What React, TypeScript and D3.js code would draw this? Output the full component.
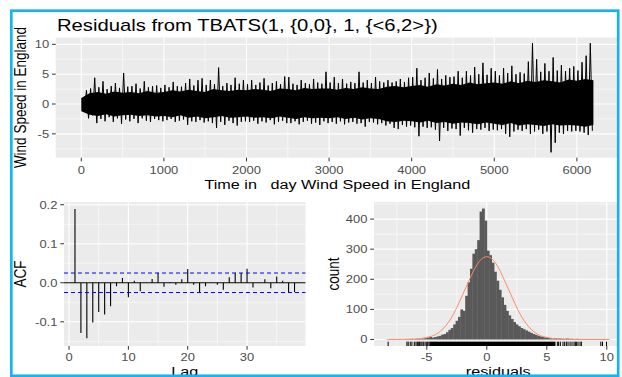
import React from 'react';
import * as d3 from 'd3';

// ---------- Top panel: residual series (read as 50-day block extremes) ----------
const blockDays = 50;
const spikeHi = [
  1.0, 2.3, 2.6, 4.4, 2.8, 3.8, 2.5, 3.0, 3.5, 2.7,
  5.2, 2.9, 3.0, 3.4, 2.6, 3.8, 2.8, 3.0, 3.1, 2.7,
  3.2, 2.8, 3.7, 3.0, 2.9, 3.5, 4.2, 3.1, 4.0, 4.3,
  3.2, 4.0, 3.3, 6.1, 3.0, 3.5, 3.2, 4.4, 3.4, 4.0,
  3.3, 4.0, 3.2, 3.6, 4.3, 3.1, 3.5, 3.8, 3.3, 4.6,
  4.5, 3.4, 3.2, 4.0, 3.5, 3.3, 4.2, 3.6, 3.4, 5.4,
  3.6, 4.5, 3.5, 4.2, 3.4, 3.7, 3.5, 5.4, 3.6, 4.0,
  3.5, 4.5, 3.8, 3.6, 4.0, 3.6, 3.8, 4.2, 3.7, 4.4,
  4.5, 6.0, 4.0, 4.4, 5.2, 4.3, 5.8, 4.2, 4.8, 4.5,
  4.6, 5.5, 4.4, 5.5, 4.8, 6.2, 5.0, 6.9, 4.9, 6.0,
  5.5, 4.8, 6.0, 5.2, 6.4, 5.0, 5.3, 5.1, 7.1, 10.2,
  7.5, 5.4, 6.8, 5.5, 7.8, 5.6, 6.5, 5.5, 6.0, 6.3,
  5.6, 7.0, 8.1, 10.2,
];
const spikeLo = [
  -1.3, -2.4, -1.9, -3.2, -2.5, -2.9, -2.2, -3.0, -2.4, -3.3,
  -2.6, -2.9, -2.5, -3.2, -2.4, -2.8, -3.0, -2.5, -2.7, -2.9,
  -2.7, -2.5, -3.0, -2.8, -2.6, -3.5, -2.9, -3.0, -2.7, -3.1,
  -2.9, -3.2, -4.0, -3.0, -3.5, -2.8, -3.2, -3.6, -3.0, -2.9,
  -3.0, -2.8, -3.3, -2.9, -3.1, -2.7, -3.4, -3.0, -2.8, -3.2,
  -3.2, -2.9, -3.4, -3.0, -2.8, -3.3, -3.1, -3.5, -2.9, -3.2,
  -3.0, -3.3, -2.9, -3.4, -3.1, -3.0, -3.3, -3.2, -3.8, -3.0,
  -3.1, -3.4, -3.2, -3.6, -3.3, -4.0, -4.2, -3.5, -3.8, -3.6,
  -3.9, -5.4, -3.8, -4.0, -3.9, -4.3, -6.2, -4.0, -4.5, -4.1,
  -4.2, -5.3, -4.0, -4.4, -4.8, -4.2, -4.3, -4.0, -4.5, -4.3,
  -4.4, -4.2, -5.0, -5.5, -4.6, -4.3, -4.5, -4.2, -5.0, -4.6,
  -4.3, -5.0, -4.6, -8.1, -6.5, -4.8, -5.0, -4.5, -4.6, -4.5,
  -4.6, -4.8, -5.2, -4.5,
];
// dense core band, read every 100 days (t = 0 .. 6200)
const coreStep = 100;
const coreUpper = [
  1.0, 1.8, 2.0, 1.7, 2.1, 1.9, 2.0, 1.8, 2.2, 1.9,
  2.0, 2.3, 2.1, 2.4, 2.2, 2.0, 2.5, 2.3, 2.2, 2.4,
  2.3, 2.5, 2.4, 2.2, 2.6, 2.5, 2.3, 2.7, 2.5, 2.6,
  2.6, 2.4, 2.7, 2.5, 2.8, 2.6, 2.5, 2.9, 3.0, 2.8,
  3.0, 3.2, 2.9, 3.3, 3.1, 3.4, 3.2, 3.6, 3.3, 3.5,
  3.6, 3.4, 3.8, 3.5, 3.9, 3.7, 4.0, 3.8, 3.6, 4.1,
  3.9, 4.2, 4.0,
];
const coreLower = [
  -1.2, -1.8, -2.0, -1.7, -2.1, -1.9, -1.8, -2.0, -1.9, -2.1,
  -2.0, -2.2, -1.9, -2.3, -2.1, -2.4, -2.2, -2.0, -2.3, -2.2,
  -2.1, -2.3, -2.2, -2.4, -2.1, -2.3, -2.5, -2.2, -2.4, -2.3,
  -2.4, -2.2, -2.5, -2.3, -2.6, -2.4, -2.5, -2.9, -3.0, -2.8,
  -2.9, -3.1, -2.8, -3.2, -3.0, -3.3, -3.1, -3.2, -3.4, -3.1,
  -3.3, -3.5, -3.2, -3.6, -3.4, -3.5, -3.7, -3.4, -3.6, -3.5,
  -3.6, -3.8, -3.5,
];

const topXTicks = [0, 1000, 2000, 3000, 4000, 5000, 6000];
const topXMinor = [500, 1500, 2500, 3500, 4500, 5500, 6500];
const topYTicks = [-5, 0, 5, 10];
const topYMinor = [-7.5, -2.5, 2.5, 7.5];

// ---------- ACF ----------
const acfValues = [
  0.189, -0.129, -0.142, -0.102, -0.075, -0.081, -0.060, -0.009, 0.012, -0.037,
  0.005, -0.022, 0.001, 0.010, 0.026, -0.010, 0.002, -0.005, 0.009, 0.035,
  -0.005, -0.024, -0.009, 0.001, -0.005, -0.018, 0.014, 0.026, 0.025, 0.036,
  -0.012, 0.001, 0.009, -0.014, 0.016, 0.005, -0.024, -0.024,
];
const acfCi = 0.025;
const acfXTicks = [0, 10, 20, 30];
const acfXMinor = [5, 15, 25, 35];
const acfYTicks = [-0.1, 0.0, 0.1, 0.2];
const acfYMinor = [-0.15, -0.05, 0.05, 0.15];
const acfYLabels = ['-0.1', '0.0', '0.1', '0.2'];

// ---------- Histogram ----------
const histStart = -8.4;
const binWidth = 0.2;
const histCounts = [
  1, 0, 0, 0, 0, 0, 0, 0, 1, 1,
  2, 1, 2, 2, 2, 3, 4, 6, 8, 6,
  8, 10, 12, 16, 18, 24, 32, 38, 50, 62,
  75, 100, 95, 145, 190, 235, 285, 300, 330, 425,
  435, 395, 295, 280, 255, 225, 195, 165, 140, 115,
  95, 80, 68, 58, 50, 44, 38, 34, 30, 26,
  22, 18, 15, 12, 10, 8, 6, 5, 4, 3,
  4, 3, 3, 2, 2, 3, 2, 2, 1, 2,
  1, 1, 0, 0, 0, 0, 0, 0, 0, 1,
  1, 0, 1,
];
const normalX = [-8.2, -7, -6, -5, -4.5, -4, -3.5, -3, -2.5, -2, -1.5, -1, -0.5, 0, 0.5, 1, 1.5, 2, 2.5, 3, 3.5, 4, 4.5, 5, 6, 7, 8, 10.2];
const normalY = [0, 0.2, 1, 7, 12, 23, 42, 69, 106, 150, 194, 236, 265, 275, 265, 236, 194, 150, 106, 69, 42, 23, 12, 7, 1, 0.2, 0, 0];
const rugDense = [-4.78, 5.72];
const rugTails = [
  -8.22, -6.66, -6.55, -6.38, -6.24, -6.04, -5.9, -5.79, -5.71, -5.6, -5.49, -5.4, -5.29, -5.15, -5.04, -4.93, -4.82,
  5.88, 5.99, 6.13, 6.35, 6.49, 6.63, 6.77, 6.94, 7.1, 7.27, 7.38, 7.49, 7.6, 7.77, 7.88, 9.5, 9.64, 9.98,
];
const histXTicks = [-5, 0, 5, 10];
const histXMinor = [-7.5, -2.5, 2.5, 7.5];
const histYTicks = [0, 100, 200, 300, 400];
const histYMinor = [50, 150, 250, 350, 450];

const FONT = "'Liberation Sans', Arial, Helvetica, sans-serif";
const TICK_FS = 10.8;
const TITLE_FS = 13.5;
const SX = 1.2; // horizontal stretch of the reference's lettering
const GRID_BG = '#EBEBEB';
const TICK_COL = '#4D4D4D';

type Sc = d3.ScaleLinear<number, number>;

function Txt({ x, y, children, anchor = 'start', fs = TICK_FS, fill = '#000', rot = false, sx = SX, dy }: any) {
  return (
    <text transform={`translate(${x},${y}) scale(${sx},1)${rot ? ' rotate(-90)' : ''}`}
      textAnchor={anchor} fontFamily={FONT} fontSize={fs} fill={fill} dy={dy} style={{ whiteSpace: 'pre' }}>
      {children}
    </text>
  );
}

function PanelBg({ x, y, xMaj, xMin, yMaj, yMin }: { x: Sc; y: Sc; xMaj: number[]; xMin: number[]; yMaj: number[]; yMin: number[] }) {
  const [x0, x1] = x.range();
  const [y0, y1] = y.range();
  const inX = (v: number) => x(v) >= Math.min(x0, x1) && x(v) <= Math.max(x0, x1);
  const inY = (v: number) => y(v) >= Math.min(y0, y1) && y(v) <= Math.max(y0, y1);
  return (
    <g>
      <rect x={x0} y={y1} width={x1 - x0} height={y0 - y1} fill={GRID_BG} />
      {yMin.filter(inY).map((v) => (
        <line key={'ym' + v} x1={x0} x2={x1} y1={y(v)} y2={y(v)} stroke="#fff" strokeWidth={0.55} />
      ))}
      {xMin.filter(inX).map((v) => (
        <line key={'xm' + v} x1={x(v)} x2={x(v)} y1={y0} y2={y1} stroke="#fff" strokeWidth={0.55} />
      ))}
      {yMaj.filter(inY).map((v) => (
        <line key={'yM' + v} x1={x0} x2={x1} y1={y(v)} y2={y(v)} stroke="#fff" strokeWidth={1.1} />
      ))}
      {xMaj.filter(inX).map((v) => (
        <line key={'xM' + v} x1={x(v)} x2={x(v)} y1={y0} y2={y1} stroke="#fff" strokeWidth={1.1} />
      ))}
    </g>
  );
}

function Axes({ x, y, xTicks, yTicks, xLabels, yLabels, xLabelY }: { x: Sc; y: Sc; xTicks: number[]; yTicks: number[]; xLabels: string[]; yLabels: string[]; xLabelY: number }) {
  const left = x.range()[0];
  const bottom = y.range()[0];
  return (
    <g>
      {yTicks.map((v, i) => (
        <g key={'y' + v}>
          <line x1={left - 3.7} x2={left} y1={y(v)} y2={y(v)} stroke="#333" strokeWidth={1} />
          <Txt x={left - 6.6} y={y(v)} dy="0.36em" anchor="end" fill={TICK_COL}>{yLabels[i]}</Txt>
        </g>
      ))}
      {xTicks.map((v, i) => (
        <g key={'x' + v}>
          <line x1={x(v)} x2={x(v)} y1={bottom} y2={bottom + 3.7} stroke="#333" strokeWidth={1} />
          <Txt x={x(v)} y={xLabelY} anchor="middle" fill={TICK_COL}>{xLabels[i]}</Txt>
        </g>
      ))}
    </g>
  );
}

export default function App() {
  // top
  const topX = d3.scaleLinear().domain([-310, 6510]).range([55.7, 619]);
  const topY = d3.scaleLinear().domain([-9.0, 11.15]).range([157.7, 37.5]);
  const coreData = coreUpper.map((hi, i) => ({ t: i * coreStep, hi, lo: coreLower[i] }));
  const coreArea = d3.area<{ t: number; hi: number; lo: number }>()
    .x((d) => topX(d.t)).y0((d) => topY(d.lo)).y1((d) => topY(d.hi));
  const zig: [number, number][] = [];
  spikeHi.forEach((h, i) => {
    zig.push([i * blockDays + blockDays * 0.25, h]);
    zig.push([i * blockDays + blockDays * 0.75, spikeLo[i]]);
  });
  const zigLine = d3.line<[number, number]>().x((d) => topX(d[0])).y((d) => topY(d[1]));

  // acf
  const acfX = d3.scaleLinear().domain([-0.85, 39.85]).range([64, 305.5]);
  const acfY = d3.scaleLinear().domain([-0.162, 0.207]).range([346, 202]);

  // hist
  const histX = d3.scaleLinear().domain([-9.4, 11.3]).range([374, 622.4]);
  const histY = d3.scaleLinear().domain([-21.75, 456.75]).range([346, 202]);
  const normalLine = d3.line<number>()
    .x((_, i) => histX(normalX[i])).y((d) => histY(d)).curve(d3.curveMonotoneX);
  const rugTop = 346 - 0.03 * 144;

  return (
    <svg width={622} height={377} style={{ position: 'absolute', left: 0, top: 0, background: '#fff' }}>
      <defs>
        <clipPath id="all"><rect x={0} y={0} width={619} height={377} /></clipPath>
        <clipPath id="topPanel"><rect x={55.7} y={37.5} width={563.3} height={120.2} /></clipPath>
      </defs>
      <rect x={0} y={0} width={622} height={377} fill="#fff" />
      <g clipPath="url(#all)">
        {/* title */}
        <Txt x={57} y={31} fs={16.2} sx={1.25}>Residuals from TBATS(1, {'{'}0,0{'}'}, 1, {'{'}&lt;6,2&gt;{'}'})</Txt>

        {/* top panel */}
        <PanelBg x={topX} y={topY} xMaj={topXTicks} xMin={topXMinor} yMaj={topYTicks} yMin={topYMinor} />
        <g clipPath="url(#topPanel)">
          <path d={coreArea(coreData) || ''} fill="#000" />
          <path d={zigLine(zig) || ''} fill="none" stroke="#000" strokeWidth={1} />
        </g>
        <Axes x={topX} y={topY} xTicks={topXTicks} yTicks={topYTicks}
          xLabels={topXTicks.map(String)} yLabels={topYTicks.map(String)} xLabelY={174} />
        <Txt x={(55.7 + 619) / 2} y={189} anchor="middle" fs={TITLE_FS}>Time in   day Wind Speed in England</Txt>
        <Txt x={26} y={(37.5 + 157.7) / 2} anchor="middle" fs={TITLE_FS} rot>Wind Speed in England</Txt>

        {/* ACF panel */}
        <PanelBg x={acfX} y={acfY} xMaj={acfXTicks} xMin={acfXMinor} yMaj={acfYTicks} yMin={acfYMinor} />
        <line x1={64} x2={305.5} y1={acfY(0)} y2={acfY(0)} stroke="#000" strokeWidth={1} />
        {acfValues.map((v, i) => (
          <line key={i} x1={acfX(i + 1)} x2={acfX(i + 1)} y1={acfY(0)} y2={acfY(v)} stroke="#000" strokeWidth={1.1} />
        ))}
        <line x1={64} x2={305.5} y1={acfY(acfCi)} y2={acfY(acfCi)} stroke="#0000FF" strokeWidth={1} strokeDasharray="4,3" />
        <line x1={64} x2={305.5} y1={acfY(-acfCi)} y2={acfY(-acfCi)} stroke="#0000FF" strokeWidth={1} strokeDasharray="4,3" />
        <Axes x={acfX} y={acfY} xTicks={acfXTicks} yTicks={acfYTicks}
          xLabels={acfXTicks.map(String)} yLabels={acfYLabels} xLabelY={360.5} />
        <Txt x={(64 + 305.5) / 2} y={375.5} anchor="middle" fs={TITLE_FS}>Lag</Txt>
        <Txt x={25.6} y={274} anchor="middle" fs={TITLE_FS} rot>ACF</Txt>

        {/* Histogram panel */}
        <PanelBg x={histX} y={histY} xMaj={histXTicks} xMin={histXMinor} yMaj={histYTicks} yMin={histYMinor} />
        {histCounts.map((c, i) => {
          if (c <= 0) return null;
          const s = histStart + i * binWidth;
          return <rect key={i} x={histX(s)} width={histX(s + binWidth) - histX(s) + 0.4} y={histY(c)} height={histY(0) - histY(c)} fill="#595959" />;
        })}
        <rect x={histX(rugDense[0])} width={histX(rugDense[1]) - histX(rugDense[0])} y={rugTop} height={346 - rugTop} fill="#000" />
        {rugTails.map((v, i) => (
          <line key={i} x1={histX(v)} x2={histX(v)} y1={rugTop} y2={346} stroke="#000" strokeWidth={1} />
        ))}
        <path d={normalLine(normalY) || ''} fill="none" stroke="#FF8A62" strokeWidth={1} />
        <Axes x={histX} y={histY} xTicks={histXTicks} yTicks={histYTicks}
          xLabels={histXTicks.map(String)} yLabels={histYTicks.map(String)} xLabelY={360.5} />
        <Txt x={(374 + 622.4) / 2} y={375.5} anchor="middle" fs={TITLE_FS}>residuals</Txt>
        <Txt x={338.5} y={274} anchor="middle" fs={TITLE_FS} rot>count</Txt>
      </g>

      {/* blue frame */}
      <rect x={11.3} y={10.7} width={606.9} height={365.1} fill="none" stroke="#14B4F0" strokeWidth={2.7} />
    </svg>
  );
}
